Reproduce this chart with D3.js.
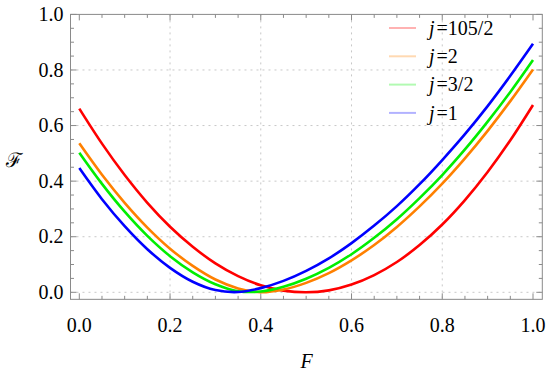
<!DOCTYPE html>
<html><head><meta charset="utf-8">
<script src="https://cdn.jsdelivr.net/npm/d3@7"></script>
<style>
body{margin:0;background:#fff}
svg text{font-family:"Liberation Serif","Times New Roman",Times,serif;}
svg text.scr{font-family:"DejaVu Serif",serif;}
</style>
</head><body>
<svg id="chart" width="549" height="374"></svg>
<script>
const Fvals = [0,0.05,0.1,0.15,0.2,0.25,0.3,0.35,0.4,0.45,0.5,0.55,0.6,0.65,0.7,0.75,0.8,0.85,0.9,0.95,1.0];
const redVals    = [0.661,0.535,0.422,0.322,0.236,0.164,0.104,0.058,0.025,0.006,0.000,0.007,0.028,0.062,0.109,0.170,0.244,0.332,0.433,0.547,0.674];
const orangeVals = [0.536,0.423,0.322,0.233,0.157,0.095,0.046,0.014,0.000,0.010,0.034,0.069,0.115,0.170,0.235,0.309,0.391,0.482,0.581,0.688,0.802];
const greenVals  = [0.502,0.390,0.290,0.203,0.130,0.072,0.029,0.004,0.003,0.020,0.049,0.088,0.137,0.196,0.263,0.339,0.422,0.514,0.614,0.721,0.836];
const blueVals   = [0.447,0.335,0.238,0.155,0.088,0.038,0.008,0.001,0.015,0.041,0.077,0.122,0.177,0.240,0.310,0.389,0.476,0.569,0.670,0.779,0.894];
const seriesNames = ["j=105/2","j=2","j=3/2","j=1"];
const seriesLabels = [["j","=105/2"],["j","=2"],["j","=3/2"],["j","=1"]];
const seriesColors = ["#ff0000","#ff8000","#00ee00","#0000ff"];
const xTicks = [0,0.2,0.4,0.6,0.8,1.0];
const yTicks = [0,0.2,0.4,0.6,0.8,1.0];

const svg = d3.select("#chart");
const x = d3.scaleLinear().domain([0,1]).range([79.3,533]);
const y = d3.scaleLinear().domain([0,1]).range([292.3,14.4]);
const x0 = x(-0.0194), x1 = x(1.0205), yB = y(-0.0253), yT = y(1.0);

const frameColor = "#8a8a8a";

// grid
const g = svg.append("g");
g.selectAll(".gx").data([0.2,0.4,0.6,0.8]).join("line")
  .attr("x1",d=>x(d)).attr("x2",d=>x(d)).attr("y1",yT).attr("y2",yB)
  .attr("stroke","#c8c8c8").attr("stroke-width",1).attr("stroke-dasharray","2,4");
g.selectAll(".gy").data([0,0.2,0.4,0.6,0.8]).join("line")
  .attr("y1",d=>y(d)).attr("y2",d=>y(d)).attr("x1",x0).attr("x2",x1)
  .attr("stroke","#c8c8c8").attr("stroke-width",1).attr("stroke-dasharray","2,4");

// frame + inward ticks
const minor = d3.range(0,1.0001,0.05);
function isMajor(v){return Math.abs(v*5-Math.round(v*5))<1e-6;}
svg.append("rect").attr("x",x0).attr("y",yT).attr("width",x1-x0).attr("height",yB-yT)
  .attr("fill","none").attr("stroke",frameColor).attr("stroke-width",1);
const tk = svg.append("g").attr("stroke",frameColor).attr("stroke-width",1);
minor.forEach(v=>{
  const L = isMajor(v)?6:3.5;
  tk.append("line").attr("x1",x(v)).attr("x2",x(v)).attr("y1",yB).attr("y2",yB-L);
  tk.append("line").attr("x1",x(v)).attr("x2",x(v)).attr("y1",yT).attr("y2",yT+L);
  tk.append("line").attr("y1",y(v)).attr("y2",y(v)).attr("x1",x0).attr("x2",x0+L);
  tk.append("line").attr("y1",y(v)).attr("y2",y(v)).attr("x1",x1).attr("x2",x1-L);
});
// tick labels
svg.append("g").selectAll("text").data(xTicks).join("text")
  .attr("x",d=>x(d)).attr("y",331.5).attr("text-anchor","middle")
  .attr("font-size",20).attr("fill","#000")
  .text(d=>d3.format(".1f")(d));
svg.append("g").selectAll("text").data(yTicks).join("text")
  .attr("x",63.5).attr("y",d=>y(d)+6.6).attr("text-anchor","end")
  .attr("font-size",20).attr("fill","#000")
  .text(d=>d3.format(".1f")(d));
// axis titles
svg.append("text").attr("x",306.5).attr("y",368).attr("text-anchor","middle")
  .attr("font-style","italic").attr("font-size",20).attr("fill","#000").text("F");
svg.append("text").attr("class","scr").attr("x",14).attr("y",167).attr("text-anchor","middle")
  .attr("font-size",20).attr("fill","#000").text("ℱ");

// curves
const allVals = [redVals,orangeVals,greenVals,blueVals];
const line = d3.line().x((d,i)=>x(Fvals[i])).y(d=>y(d)).curve(d3.curveCatmullRom.alpha(0.5));
svg.append("g").selectAll("path").data(allVals).join("path")
  .attr("d",d=>line(d)).attr("fill","none")
  .attr("stroke",(d,i)=>seriesColors[i]).attr("stroke-width",2.6)
  .attr("stroke-linejoin","round");

// legend
const lg = svg.append("g");
seriesNames.forEach((n,i)=>{
  const yy = 28 + i*28.3;
  lg.append("line").attr("x1",389).attr("x2",416).attr("y1",yy).attr("y2",yy)
    .attr("stroke",seriesColors[i]).attr("stroke-opacity",0.3).attr("stroke-width",2);
  const t = lg.append("text").attr("x",429).attr("y",yy+6.7).attr("font-size",20).attr("fill","#000");
  t.append("tspan").attr("font-style","italic").text(seriesLabels[i][0]);
  t.append("tspan").attr("dx",2).text(seriesLabels[i][1]);
});
</script>
</body></html>
